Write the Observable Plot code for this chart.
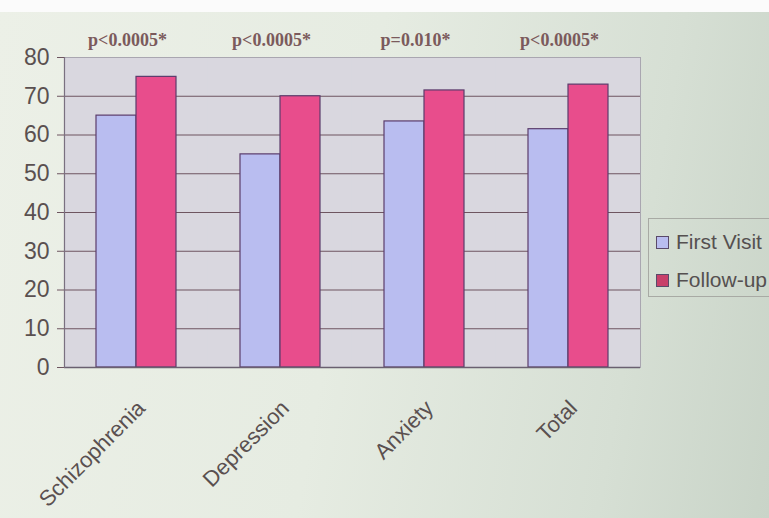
<!DOCTYPE html>
<html>
<head>
<meta charset="utf-8">
<script src="https://cdn.jsdelivr.net/npm/d3@7"></script>
<script src="https://cdn.jsdelivr.net/npm/@observablehq/plot@0.6"></script>
<style>
  html, body { margin: 0; padding: 0; }
  body {
    width: 769px; height: 518px; overflow: hidden; position: relative;
    background: linear-gradient(100deg, #ecf0e7 0%, #e6ece2 45%, #d6dfd4 80%, #c9d4c8 100%);
    font-family: Arial, "Liberation Sans", sans-serif;
  }
  #topband { position: absolute; left: 0; top: 0; width: 769px; height: 12px; background: #fbfbfb; }
  #chart { position: absolute; left: 0; top: 0; }
  #legend {
    position: absolute; left: 648px; top: 218px; width: 140px; height: 79px;
    border: 1px solid #a8aaa4; box-sizing: border-box; padding: 8px 0 0 7px;
    color: #555050; font-size: 21px;
  }
  .item { display: flex; align-items: center; height: 30px; margin-bottom: 8px; white-space: nowrap; }
  .sw { width: 11px; height: 11px; border: 1px solid #5a4a6a; margin-right: 7px; }
</style>
</head>
<body>
<div id="topband"></div>
<div id="chart"></div>
<div id="legend"></div>
<script>
const categories = ["Schizophrenia", "Depression", "Anxiety", "Total"];
const seriesNames = ["First Visit", "Follow-up"];
const firstVisit = [65, 55, 63.5, 61.5];
const followUp = [75, 70, 71.5, 73];
const pValues = ["p<0.0005*", "p<0.0005*", "p=0.010*", "p<0.0005*"];
const yTicks = [0, 10, 20, 30, 40, 50, 60, 70, 80];
const seriesColors = ["#b9bdf0", "#e84d8c"];
const legendColors = ["#b9bdf0", "#c8406a"];

const rows = categories.flatMap((c, i) => [
  {cat: c, series: seriesNames[0], value: firstVisit[i]},
  {cat: c, series: seriesNames[1], value: followUp[i]}
]);
const pRows = categories.map((c, i) => ({cat: c, p: pValues[i]}));

const chart = Plot.plot({
  width: 769,
  height: 518,
  marginLeft: 63,
  marginRight: 129,
  marginTop: 57,
  marginBottom: 151,
  style: {background: "transparent", overflow: "visible"},
  fx: {domain: categories, padding: 0, axis: null},
  x: {domain: seriesNames, paddingInner: 0, paddingOuter: 0.8, axis: null},
  y: {domain: [0, 80], axis: null},
  color: {domain: seriesNames, range: seriesColors},
  marks: [
    Plot.frame({fill: "#d9d7df", stroke: "none", insetLeft: -0.6, insetRight: -0.6}),
    Plot.ruleY(yTicks.filter(d => d > 0 && d < 80), {stroke: "#6e5560", strokeWidth: 1.1}),
    Plot.ruleY([80], {stroke: "#a9a6b0", strokeWidth: 1}),
    Plot.frame({anchor: "right", facetAnchor: "right", stroke: "#a9a6b0"}),
    Plot.barY(rows, {fx: "cat", x: "series", y: "value", fill: "series", stroke: "#5b3c6c", strokeWidth: 1.2}),
    Plot.ruleY([0], {stroke: "#6a6070", strokeWidth: 1.5}),
    Plot.frame({anchor: "left", facetAnchor: "left", stroke: "#7a7080", strokeWidth: 1.2}),
    Plot.axisY({ticks: yTicks, label: null, tickSize: 7, tickPadding: 8, fontSize: 23, color: "#5a5050", stroke: "#6e5560", fontFamily: "Arial, Liberation Sans, sans-serif"}),
    Plot.text(pRows, {fx: "cat", text: "p", frameAnchor: "top", dy: -24, dx: -9, fontSize: 18, fontWeight: "bold", fill: "#7b5a5c", fontFamily: "Liberation Serif, Times New Roman, serif"}),
    Plot.text(categories, {fx: d => d, text: d => d, frameAnchor: "bottom", dy: 42, dx: 10, rotate: -45, textAnchor: "end", fontSize: 22, fill: "#5a5050", fontFamily: "Arial, Liberation Sans, sans-serif"})
  ]
});
document.getElementById("chart").appendChild(chart);

const legend = document.getElementById("legend");
seriesNames.forEach((s, i) => {
  const item = document.createElement("div");
  item.className = "item";
  const sw = document.createElement("span");
  sw.className = "sw";
  sw.style.background = legendColors[i];
  const t = document.createElement("span");
  t.textContent = s;
  item.appendChild(sw);
  item.appendChild(t);
  legend.appendChild(item);
});
</script>
</body>
</html>
